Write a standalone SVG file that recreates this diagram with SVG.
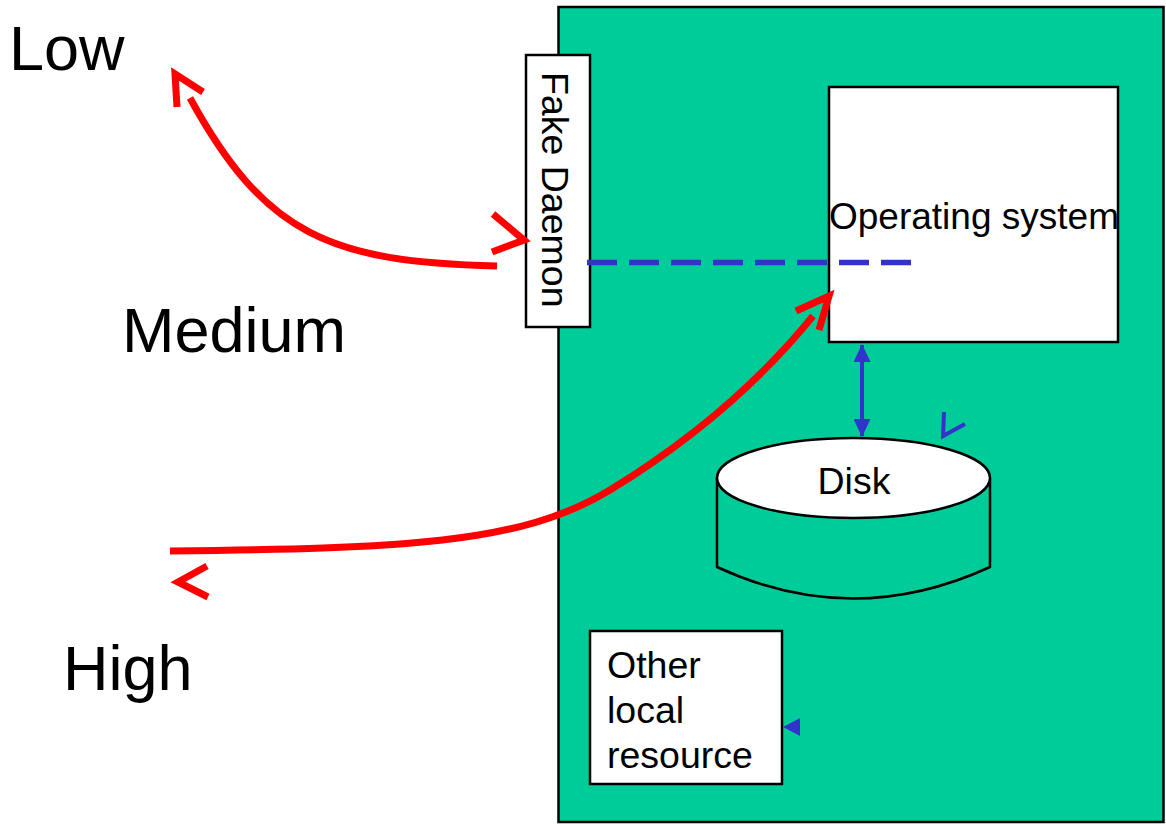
<svg xmlns="http://www.w3.org/2000/svg" width="1166" height="824" viewBox="0 0 1166 824">
<style>
text{font-family:"Liberation Sans",Arial,sans-serif;fill:#000}
.lbl{font-size:63px}
.t{font-size:37.5px}
.box{fill:#fff;stroke:#000;stroke-width:2.5}
.red{fill:none;stroke:#ff0000;stroke-width:7}
.blue{fill:none;stroke:#3333cc;stroke-width:4}
</style>
<defs>
<marker id="bh" viewBox="0 0 18 17" refX="17" refY="8.5" markerWidth="18" markerHeight="17" markerUnits="userSpaceOnUse" orient="auto-start-reverse">
<path d="M0,0 L18,8.5 L0,17 Z" fill="#3333cc"/>
</marker>
</defs>
<rect width="1166" height="824" fill="#fff"/>
<g id="host">
<rect x="558.5" y="7" width="605" height="815" fill="#00cc99" stroke="#000" stroke-width="2.5"/>
</g>
<g id="labels">
<text class="lbl" x="9" y="70">Low</text>
<text class="lbl" x="122" y="352">Medium</text>
<text class="lbl" x="63" y="690">High</text>
</g>
<g id="fake-daemon">
<rect class="box" x="526" y="55" width="64" height="272"/>
<text class="t" transform="translate(542,72) rotate(90)">Fake Daemon</text>
</g>
<g id="os">
<rect class="box" x="829" y="87" width="289" height="255"/>
<text class="t" x="829" y="229" style="font-size:37px">Operating system</text>
</g>
<g id="disk">
<path d="M717,478 L717,567 Q853,630 990,567 L990,478" fill="#00cc99" stroke="#000" stroke-width="2.5"/>
<ellipse cx="853.5" cy="478" rx="136.5" ry="40" fill="#fff" stroke="#000" stroke-width="2.5"/>
<text class="t" x="854" y="494" text-anchor="middle">Disk</text>
</g>
<g id="other">
<rect class="box" x="590" y="631" width="192" height="153"/>
<text class="t" x="607" y="678">Other</text>
<text class="t" x="607" y="723">local</text>
<text class="t" x="607" y="768">resource</text>
</g>
<g id="connectors">
<line x1="587" y1="262.5" x2="911" y2="262.5" stroke="#3333cc" stroke-width="5.5" stroke-dasharray="30 12"/>
<line x1="862" y1="345" x2="862" y2="436" class="blue" marker-start="url(#bh)" marker-end="url(#bh)"/>
<path class="red" d="M497,266 C330,262 265,235 190,98"/>
<polyline class="red" points="177,107 175,74 203,92"/>
<polyline class="red" points="493,214 524,240 492,252"/>
<path class="red" d="M170,551 C400,548 520,545 610,490 C700,435 765,375 813,316"/>
<polyline class="red" points="796,311 829,296 819,330"/>
<polyline class="red" points="207,566 178,582 208,597"/>
<polyline class="blue" points="944,412 943,436 965,424"/>
<path d="M783,727 L800,718 L800,736 Z" fill="#3333cc"/>
</g>
</svg>
